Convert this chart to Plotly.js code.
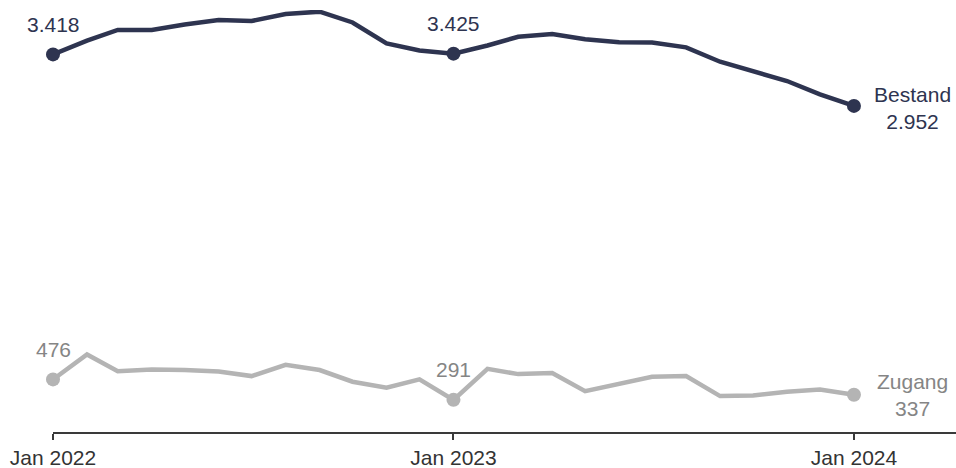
<!DOCTYPE html>
<html>
<head>
<meta charset="utf-8">
<script src="https://cdn.plot.ly/plotly-3.0.1.min.js"></script>
<style>html,body{margin:0;padding:0;background:#fff;}#chart{width:956px;height:468px;}</style>
</head>
<body>
<div id="chart"></div>
<script>
const months = ['2022-01-01','2022-02-01','2022-03-01','2022-04-01','2022-05-01','2022-06-01','2022-07-01','2022-08-01','2022-09-01','2022-10-01','2022-11-01','2022-12-01',
  '2023-01-01','2023-02-01','2023-03-01','2023-04-01','2023-05-01','2023-06-01','2023-07-01','2023-08-01','2023-09-01','2023-10-01','2023-11-01','2023-12-01','2024-01-01'];
const bestand = [3418,3542,3639,3639,3689,3730,3720,3784,3805,3707,3517,3453,
  3425,3499,3578,3603,3555,3528,3525,3482,3352,3262,3177,3057,2952];
const zugang = [476,702,551,566,561,548,506,608,561,455,401,476,
  291,572,524,533,370,437,500,506,325,330,365,385,337];
const tickVals = ['2022-01-01','2023-01-01','2024-01-01'];
const tickText = ['Jan 2022','Jan 2023','Jan 2024'];
const seriesNames = ['Bestand','Zugang'];
const highlightIdx = [0,12,24];

const navy = '#2e3450';
const gray = '#b4b4b4';
const grayText = '#858585';
const FONT = 'Liberation Sans, Arial, sans-serif';

function fmt(v){ return String(v).replace(/\B(?=(\d{3})+(?!\d))/g,'.'); }

const traces = [
  {x: months, y: bestand, mode:'lines', line:{color:navy, width:4.5}, hoverinfo:'skip', cliponaxis:false},
  {x: months, y: zugang, mode:'lines', line:{color:gray, width:4.5}, hoverinfo:'skip', cliponaxis:false},
  {x: highlightIdx.map(i=>months[i]), y: highlightIdx.map(i=>bestand[i]), mode:'markers', marker:{color:navy, size:14}, cliponaxis:false, hoverinfo:'skip'},
  {x: highlightIdx.map(i=>months[i]), y: highlightIdx.map(i=>zugang[i]), mode:'markers', marker:{color:gray, size:14}, cliponaxis:false, hoverinfo:'skip'}
];

const annotations = [];
[0,12].forEach(i=>{
  annotations.push({x:months[i], y:bestand[i], xref:'x', yref:'y', text:fmt(bestand[i]), showarrow:false, yshift:30, font:{family:FONT,size:21,color:navy}});
  annotations.push({x:months[i], y:zugang[i], xref:'x', yref:'y', text:fmt(zugang[i]), showarrow:false, yshift:30, font:{family:FONT,size:21,color:grayText}});
});
const last = months.length-1;
annotations.push({x:months[last], y:bestand[last], xref:'x', yref:'y', text:seriesNames[0]+'<br>'+fmt(bestand[last]), showarrow:false, xanchor:'center', xshift:59, yshift:-2, align:'center', font:{family:FONT,size:21,color:navy}});
annotations.push({x:months[last], y:zugang[last], xref:'x', yref:'y', text:seriesNames[1]+'<br>'+fmt(zugang[last]), showarrow:false, xanchor:'center', xshift:59, yshift:0, align:'center', font:{family:FONT,size:21,color:grayText}});

const layout = {
  width:956, height:468,
  margin:{l:53, r:0, t:10, b:36},
  paper_bgcolor:'#fff', plot_bgcolor:'#fff',
  showlegend:false,
  separators:',.',
  font:{family:FONT, size:21, color:'#333'},
  xaxis:{type:'date', range:['2022-01-01','2024-04-03'], showgrid:false, zeroline:false,
    showline:true, linecolor:'#3a3a3a', linewidth:2,
    ticks:'outside', ticklen:6, tickwidth:2, tickcolor:'#3a3a3a',
    tickvals:tickVals, ticktext:tickText, tickfont:{family:FONT,size:21,color:'#333'}},
  yaxis:{range:[0,3820], visible:false, showgrid:false, zeroline:false, fixedrange:true},
  annotations: annotations
};

Plotly.newPlot('chart', traces, layout, {displayModeBar:false, staticPlot:true});
</script>
</body>
</html>
